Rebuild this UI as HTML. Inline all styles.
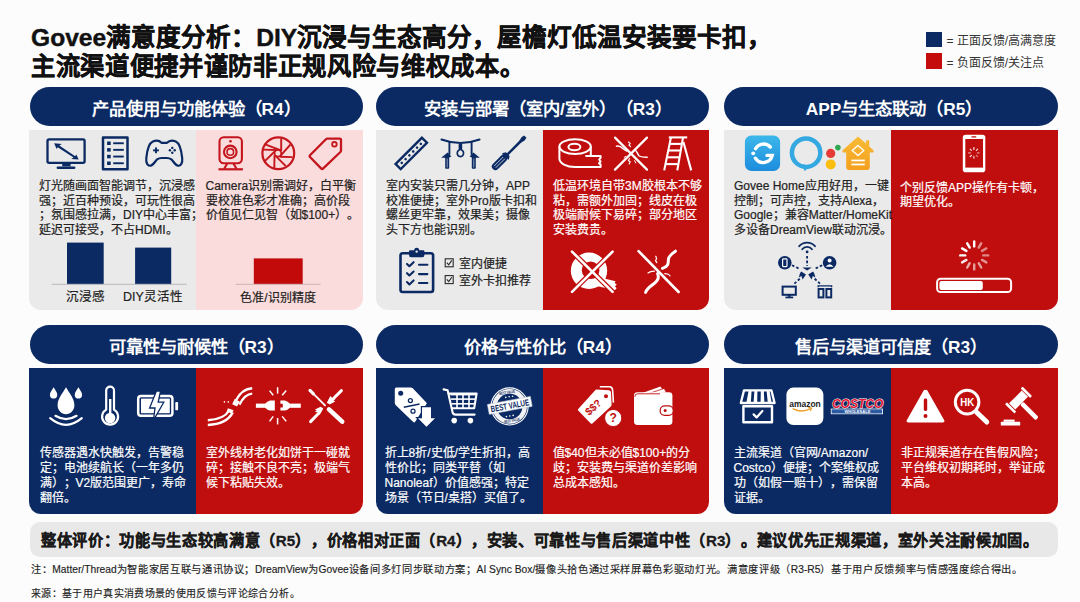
<!DOCTYPE html>
<html lang="zh-CN"><head><meta charset="utf-8">
<style>
*{margin:0;padding:0;box-sizing:border-box}
html,body{width:1080px;height:602px;overflow:hidden;background:#fcfcfc}
body{position:relative;font-family:"Liberation Sans",sans-serif;color:#222;text-spacing-trim:space-all}
.a{position:absolute}
.title{left:31px;top:23px;font-size:24.6px;font-weight:bold;-webkit-text-stroke:0.4px #111;line-height:29.5px;color:#111;white-space:nowrap;letter-spacing:0}
.lg{font-size:12px;color:#333;white-space:nowrap;line-height:14px}
.sq{width:15.5px;height:15.5px}
.pill{height:38.5px;border-radius:20px;background:#0b2a63;color:#fff;font-weight:bold;font-size:17.3px;text-align:center;line-height:45px;white-space:nowrap}
.pn{overflow:hidden}
.h{position:absolute;top:0;bottom:0}
.t{position:absolute;font-size:12px;line-height:14.7px;white-space:nowrap;-webkit-text-stroke:0.2px currentColor}
.w{color:#fff}
.d{color:#222}
svg{position:absolute;overflow:visible}
</style></head><body>
<div class="a title">Govee满意度分析：DIY沉浸与生态高分，屋檐灯低温安装要卡扣，</div>
<div class="a title" style="top:52.3px;transform:scaleX(0.987);transform-origin:0 0">主流渠道便捷并谨防非正规风险与维权成本。</div>

<div class="a sq" style="left:926px;top:31.6px;background:#0b2a63"></div>
<div class="a lg" style="left:946.5px;top:34px">= 正面反馈/高满意度</div>
<div class="a sq" style="left:926px;top:53.3px;background:#c40c0c"></div>
<div class="a lg" style="left:946.5px;top:56px">= 负面反馈/关注点</div>

<!-- pills row 1 -->
<div class="a pill" style="left:29.5px;top:87.3px;width:333.2px">产品使用与功能体验（R4）</div>
<div class="a pill" style="left:376.2px;top:87.3px;width:333.3px;padding-left:10px">安装与部署（室内/室外）（R3）</div>
<div class="a pill" style="left:724.3px;top:87.3px;width:333.5px;padding-left:6px">APP与生态联动（R5）</div>
<!-- pills row 2 -->
<div class="a pill" style="left:29.5px;top:325.2px;width:333.2px;height:39px;line-height:44px">可靠性与耐候性（R3）</div>
<div class="a pill" style="left:376.2px;top:325.2px;width:333.3px;height:39px;line-height:44px">价格与性价比（R4）</div>
<div class="a pill" style="left:724.3px;top:325.2px;width:333.5px;height:39px;line-height:44px">售后与渠道可信度（R3）</div>

<!-- panels row 1 -->
<div class="a pn" style="left:29.2px;top:129.8px;width:333.5px;height:179.8px;border-radius:0 0 12px 12px">
  <div class="h" style="left:0;width:166.8px;background:#eaeaea"></div>
  <div class="h" style="left:166.8px;right:0;background:#fadcdc"></div>
</div>
<div class="a pn" style="left:376.2px;top:129.8px;width:333.3px;height:179.8px;border-radius:0 0 12px 12px">
  <div class="h" style="left:0;width:166.6px;background:#eaeaea"></div>
  <div class="h" style="left:166.6px;right:0;background:#c00e0e"></div>
</div>
<div class="a pn" style="left:724.3px;top:129.8px;width:333.5px;height:179.8px;border-radius:0 0 12px 12px">
  <div class="h" style="left:0;width:166.7px;background:#eaeaea"></div>
  <div class="h" style="left:166.7px;right:0;background:#c00e0e"></div>
</div>
<!-- panels row 2 -->
<div class="a pn" style="left:29.2px;top:368px;width:333.5px;height:146.3px;border-radius:0 0 12px 12px">
  <div class="h" style="left:0;width:166.8px;background:#0b2a63"></div>
  <div class="h" style="left:166.8px;right:0;background:#c00e0e"></div>
</div>
<div class="a pn" style="left:376.2px;top:368px;width:333.3px;height:146.3px;border-radius:0 0 12px 12px">
  <div class="h" style="left:0;width:166.6px;background:#0b2a63"></div>
  <div class="h" style="left:166.6px;right:0;background:#c00e0e"></div>
</div>
<div class="a pn" style="left:724.3px;top:368px;width:333.5px;height:146.3px;border-radius:0 0 12px 12px">
  <div class="h" style="left:0;width:166.7px;background:#0b2a63"></div>
  <div class="h" style="left:166.7px;right:0;background:#c00e0e"></div>
</div>

<!-- texts row 1 -->
<div class="t d" style="left:39px;top:179px">灯光随画面智能调节，沉浸感<br>强；近百种预设，可玩性很高<br>；氛围感拉满，DIY中心丰富；<br>延迟可接受，不占HDMI。</div>
<div class="t d" style="left:205.5px;top:179px">Camera识别需调好，白平衡<br>要校准色彩才准确；高价段<br>价值见仁见智（如$100+）。</div>
<div class="t d" style="left:386px;top:179px">室内安装只需几分钟，APP<br>校准便捷；室外Pro版卡扣和<br>螺丝更牢靠，效果美；摄像<br>头下方也能识别。</div>
<div class="t w" style="left:553px;top:179px">低温环境自带3M胶根本不够<br>粘，需额外加固；线皮在极<br>极端耐候下易碎；部分地区<br>安装费贵。</div>
<div class="t d" style="left:734px;top:179px">Govee Home应用好用，一键<br>控制；可声控，支持Alexa，<br>Google；兼容Matter/HomeKit<br>多设备DreamView联动沉浸。</div>
<div class="t w" style="left:900px;top:180.5px">个别反馈APP操作有卡顿，<br>期望优化。</div>

<!-- texts row 2 -->
<div class="t w" style="left:39.5px;top:445.5px;line-height:15px">传感器遇水快触发，告警稳<br>定；电池续航长（一年多仍<br>满）；V2版范围更广，寿命<br>翻倍。</div>
<div class="t w" style="left:205.5px;top:445.5px;line-height:15px">室外线材老化如饼干一碰就<br>碎；接触不良不亮；极端气<br>候下粘贴失效。</div>
<div class="t w" style="left:384.5px;top:445.5px;line-height:15px">折上8折/史低/学生折扣，高<br>性价比；同类平替（如<br>Nanoleaf）价值感强；特定<br>场景（节日/桌搭）买值了。</div>
<div class="t w" style="left:552.5px;top:445.5px;line-height:15px">值$40但未必值$100+的分<br>歧；安装费与渠道价差影响<br>总成本感知。</div>
<div class="t w" style="left:733.5px;top:445.5px;line-height:15px">主流渠道（官网/Amazon/<br>Costco）便捷；个案维权成<br>功（如假一赔十），需保留<br>证据。</div>
<div class="t w" style="left:900.5px;top:445.5px;line-height:15px">非正规渠道存在售假风险；<br>平台维权初期耗时，举证成<br>本高。</div>

<div class="t d" style="left:459px;top:256.2px;font-size:12px;line-height:16.6px">室内便捷<br>室外卡扣推荐</div>
<div class="t d" style="left:60px;top:289px;font-size:12.5px;line-height:16px;width:50px;text-align:center">沉浸感</div>
<div class="t d" style="left:118px;top:289px;font-size:12.5px;line-height:16px;width:70px;text-align:center">DIY灵活性</div>
<div class="t d" style="left:228px;top:289.5px;font-size:12px;line-height:16px;width:100px;text-align:center">色准/识别精度</div>
<!-- summary -->
<div class="a" style="left:30px;top:522px;width:1027.5px;height:35px;border-radius:10px;background:#e8e8e8"></div>
<div class="a" style="left:40.5px;top:522.6px;height:35px;line-height:35px;font-size:15.5px;font-weight:bold;color:#1a1a1a;white-space:nowrap;-webkit-text-stroke:0.3px #1a1a1a;transform:scaleX(0.9785);transform-origin:0 0">整体评价：功能与生态较高满意（R5），价格相对正面（R4），安装、可靠性与售后渠道中性（R3）。建议优先正规渠道，室外关注耐候加固。</div>
<div class="a" style="left:31px;top:562px;font-size:10.6px;line-height:14px;color:#222;white-space:nowrap;-webkit-text-stroke:0.15px #222;transform:scaleX(0.968);transform-origin:0 0">注：Matter/Thread为智能家居互联与通讯协议；DreamView为Govee设备间多灯同步联动方案；AI Sync Box/摄像头拾色通过采样屏幕色彩驱动灯光。满意度评级（R3-R5）基于用户反馈频率与情感强度综合得出。</div>
<div class="a" style="left:31px;top:585.5px;font-size:10.6px;line-height:14px;color:#222;white-space:nowrap;-webkit-text-stroke:0.15px #222;transform:scaleX(0.94);transform-origin:0 0">来源：基于用户真实消费场景的使用反馈与评论综合分析。</div>

<svg class="ic" width="1080" height="602" viewBox="0 0 1080 602" style="left:0;top:0">
<!-- ===== Panel 1 left (navy outline) ===== -->
<g fill="none" stroke="#0b2a63" stroke-width="2.3" stroke-linejoin="round">
  <!-- monitor -->
  <rect x="47.5" y="139.4" width="37.1" height="23.5" rx="1.6"/>
  <!-- list doc -->
  <rect x="103" y="137.4" width="24.5" height="31.9" stroke-width="2.5"/>
  <!-- gamepad -->
  <path d="M152.8,141.6 C156,140.2 159.4,140.6 161.5,142.8 L167,142.8 C169.1,140.6 172.6,140.2 175.8,141.6 C179.2,143.2 181.4,150 182.2,158.2 C182.8,163.6 180.6,166.4 177.6,165.6 C175.2,165 173.2,161 171.4,159.4 C170,158.3 168.6,158 166.8,158 L161.7,158 C159.9,158 158.5,158.3 157.1,159.4 C155.3,161 153.3,165 150.9,165.6 C147.9,166.4 145.7,163.6 146.3,158.2 C147.1,150 149.3,143.2 152.8,141.6 Z" stroke-width="2.2"/>
</g>
<g fill="#0b2a63">
  <path d="M62.2,163.6 L70.6,163.6 L70.6,166.4 L62.2,166.4 Z"/>
  <rect x="56.6" y="166.4" width="18.8" height="2.5" rx="1.2"/>
  <!-- arrow -->
  <path d="M54.2,143.2 L61.8,144.1 L59.3,145.6 L75.2,156.2 L76.3,154.4 L78.7,159.4 L71.2,159.1 L73.6,157.6 L57.7,147.2 L56.6,149 Z"/>
  <!-- list bullets -->
  <rect x="107.1" y="141.5" width="3.6" height="3.5"/><rect x="107.1" y="148.1" width="3.6" height="3.5"/>
  <rect x="107.1" y="154.8" width="3.6" height="3.5"/><rect x="107.1" y="161.5" width="3.6" height="3.5"/>
  <rect x="113.2" y="142.3" width="10.6" height="1.9"/><rect x="113.2" y="148.9" width="10.6" height="1.9"/>
  <rect x="113.2" y="155.6" width="10.6" height="1.9"/><rect x="113.2" y="162.3" width="10.6" height="1.9"/>
  <!-- dpad -->
  <rect x="153.1" y="149.4" width="5.8" height="1.9"/><rect x="155.05" y="147.4" width="1.9" height="5.8"/>
  <circle cx="172.3" cy="147.9" r="1.2"/><circle cx="172.3" cy="152.7" r="1.2"/>
  <circle cx="169.9" cy="150.3" r="1.2"/><circle cx="174.7" cy="150.3" r="1.2"/>
</g>
<!-- ===== Panel 1 right (red outline) ===== -->
<g fill="none" stroke="#c4161c" stroke-width="2.1" stroke-linejoin="round">
  <!-- webcam -->
  <rect x="219.5" y="137.2" width="22.4" height="26" rx="4.2"/>
  <circle cx="230.3" cy="151.9" r="6.3"/>
  <circle cx="230.3" cy="151.9" r="3.3" stroke-width="1.6"/>
  <path d="M227.2,163.4 L224.2,168.8 M233.5,163.4 L236.5,168.8"/>
  <!-- aperture -->
  <circle cx="278.3" cy="153.3" r="15.9" stroke-width="2.2"/>
  <circle cx="277.9" cy="153.2" r="3.4" stroke-width="1.8"/>
  <!-- tag -->
  <path d="M327,138.6 L339.8,138.6 C340.6,138.6 341,139 341,139.8 L341,150.6 C341,151.2 340.8,151.6 340.4,152 L323,168.6 C322.5,169.1 321.8,169.1 321.3,168.6 L310,157 C309.5,156.5 309.5,155.8 310,155.3 L326.2,139 C326.5,138.7 326.7,138.6 327,138.6 Z" stroke-width="2.3"/>
  <circle cx="334.4" cy="144.3" r="2.3" stroke-width="1.8"/>
</g>
<g fill="#c4161c">
  <circle cx="230.5" cy="141.3" r="1.3"/>
  <rect x="218.5" y="168.2" width="24.4" height="2.2"/>
</g>
<g stroke="#c4161c" stroke-width="1.9" stroke-linecap="butt">
  <line x1="264.5" y1="144.2" x2="281" y2="150.4"/>
  <line x1="281.2" y1="138.2" x2="281.2" y2="150.9"/>
  <line x1="290.5" y1="144.5" x2="280.8" y2="155.3"/>
  <line x1="292.6" y1="157.1" x2="279.8" y2="156.8"/>
  <line x1="285.8" y1="166.2" x2="275.6" y2="155.8"/>
  <line x1="274.3" y1="168.6" x2="274.5" y2="155.2"/>
  <line x1="264.3" y1="161.6" x2="274.4" y2="151.8"/>
  <line x1="263.2" y1="149.6" x2="276" y2="150"/>
</g>
<!-- ===== Panel 2 left (navy) ===== -->
<g transform="translate(411.3,153.4) rotate(-45)">
  <rect x="-18.6" y="-3.6" width="37.2" height="7.2" fill="none" stroke="#0b2a63" stroke-width="2.4"/>
  <g fill="#0b2a63">
    <circle cx="-13.5" cy="0" r="1.3"/><circle cx="-8.1" cy="0" r="1.3"/><circle cx="-2.7" cy="0" r="1.3"/>
    <circle cx="2.7" cy="0" r="1.3"/><circle cx="8.1" cy="0" r="1.3"/><circle cx="13.5" cy="0" r="1.3"/>
  </g>
</g>
<g fill="none" stroke="#0b2a63" stroke-width="1.9" stroke-linecap="round">
  <path d="M441.4,139.5 Q460.5,146.5 479.6,139.5"/>
  <line x1="449.4" y1="142.4" x2="449.4" y2="154"/>
  <line x1="471.6" y1="142.4" x2="471.6" y2="154"/>
  <path d="M460.4,149.2 C457,150.4 456.6,153.6 458,155.6 C459,157 461.8,157 462.8,155.6 C464.2,153.6 463.8,150.4 460.4,149.2 Z" stroke-width="1.7"/>
</g>
<g fill="#0b2a63">
  <rect x="458.6" y="143.8" width="3.6" height="5.4" rx="1"/>
  <path d="M447.6,152.4 L441.2,157.8 L445.2,157.8 L445.2,168 Q445.2,168.8 446,168.8 L448.4,168.8 Q449.2,168.8 449.2,168 L449.2,157.6 L451.4,156.4 Z"/>
  <path d="M473.4,152.4 L479.8,157.8 L475.8,157.8 L475.8,168 Q475.8,168.8 475,168.8 L472.6,168.8 Q471.8,168.8 471.8,168 L471.8,157.6 L469.6,156.4 Z"/>
</g>
<g stroke="#c9d0dc" stroke-width="0.7"><line x1="447.2" y1="158.5" x2="447.2" y2="167.5"/><line x1="473.8" y1="158.5" x2="473.8" y2="167.5"/></g>
<!-- screwdriver -->
<g transform="translate(508.6,153.3) rotate(-45)">
  <rect x="-22.2" y="-3.6" width="19" height="7.2" rx="3.6" fill="#0b2a63"/>
  <path d="M-4.6,-4.8 L-1.2,-2.6 L-1.2,2.6 L-4.6,4.8 Z" fill="#0b2a63"/>
  <rect x="-1.6" y="-1.25" width="19" height="2.5" fill="#0b2a63"/>
  <path d="M16.6,-1.25 L20.4,-2.2 L23.6,-1.7 L23.6,1.7 L20.4,2.2 L16.6,1.25 Z" fill="#0b2a63"/>
  <g stroke="#dfe3ea" stroke-width="0.8"><line x1="-19.4" y1="-1.2" x2="-6.5" y2="-1.2"/><line x1="-19.4" y1="1.2" x2="-6.5" y2="1.2"/></g>
</g>
<!-- clipboard -->
<rect x="400.5" y="253.3" width="32.6" height="38.7" rx="2.2" fill="none" stroke="#0b2a63" stroke-width="2.6"/>
<path d="M409,255 L409,251.2 Q409,250.2 410,250.2 L414.1,250.2 Q414.4,247.8 416.7,247.8 Q419,247.8 419.3,250.2 L423.4,250.2 Q424.4,250.2 424.4,251.2 L424.4,255 Q424.4,257.2 422.4,257.2 L411,257.2 Q409,257.2 409,255 Z" fill="#0b2a63"/>
<circle cx="416.7" cy="251.6" r="1.2" fill="#eaeaea"/>
<g fill="none" stroke="#0b2a63" stroke-width="2.1" stroke-linecap="round" stroke-linejoin="round">
  <path d="M407,263.9 L409.4,266.2 L413.6,262.2"/>
  <path d="M407,273.2 L409.4,275.5 L413.6,271.5"/>
  <path d="M407,282.1 L409.4,284.4 L413.6,280.4"/>
  <line x1="419" y1="264.8" x2="427.4" y2="264.8"/>
  <line x1="419" y1="274.1" x2="427.4" y2="274.1"/>
  <line x1="419" y1="283" x2="427.4" y2="283"/>
</g>
<!-- checkboxes -->
<g fill="none" stroke="#2a2a2a" stroke-width="1.1">
  <rect x="445.2" y="258.8" width="8" height="8"/>
  <rect x="445.2" y="275.6" width="8" height="8"/>
  <path d="M446.8,262.6 L448.7,264.8 L451.8,260.4"/>
  <path d="M446.8,279.4 L448.7,281.6 L451.8,277.2"/>
</g>
</svg>
<svg class="ic" width="1080" height="602" viewBox="0 0 1080 602" style="left:0;top:0">
<!-- ===== bars panel 1 ===== -->
<rect x="67" y="242.6" width="36.7" height="41.6" fill="#0b2a63"/>
<rect x="135.1" y="247.6" width="36.1" height="36.6" fill="#0b2a63"/>
<rect x="51.7" y="283.8" width="135.2" height="1" fill="#b9b9bb"/>
<rect x="253.8" y="258.4" width="48.9" height="25.8" fill="#c20a0a"/>
<rect x="235.7" y="283.8" width="84.9" height="1" fill="#cdb3b3"/>
<!-- ===== Panel 2 right (white on red) ===== -->
<g fill="none" stroke="#fff" stroke-width="2" stroke-linejoin="round">
  <!-- tape roll -->
  <ellipse cx="575.1" cy="146.6" rx="15.7" ry="7.4"/>
  <ellipse cx="574.4" cy="147" rx="6" ry="3.2"/>
  <path d="M559.4,146.6 L559.4,158.6 C559.4,163.4 566.4,167 575.1,167 L600.6,167 L600.6,164.6 L599,163.3 L600.6,161.5 L599.2,159.6 L600.6,157.8 L600.6,156 L585.4,156"/>
  <path d="M590.8,146.6 L590.8,156"/>
</g>
<g stroke="#fff" stroke-width="2.2" stroke-linecap="round">
  <line x1="615" y1="137.6" x2="647" y2="169.6"/>
  <line x1="647" y1="137.6" x2="615" y2="169.6"/>
</g>
<g fill="none" stroke="#fff" stroke-width="1.5" stroke-linecap="round">
  <path d="M616.5,146.2 C619,145.6 621.5,147.2 623,148.6 L626.5,151"/>
  <path d="M634.6,149.6 C637,151 637.4,153.4 638.6,155.4 C640,157.2 643.5,157.2 647.2,157.2"/>
  <path d="M628.5,142 L630.2,143.6 L629,145.2 L630.6,146.6" stroke-width="1.1"/>
  <path d="M629.6,158.5 L628.4,160.5 L630.2,161.8 L629.2,164" stroke-width="1.1"/>
  <path d="M626,156.4 L624.2,157.4" stroke-width="1"/>
  <path d="M634.6,160.6 L635.8,163" stroke-width="1"/>
</g>
<!-- ladder -->
<g stroke="#fff" stroke-width="2.1" stroke-linecap="butt" fill="none">
  <line x1="668.8" y1="137.4" x2="687.2" y2="137.4"/>
  <line x1="670.9" y1="137.6" x2="664.2" y2="170.4"/>
  <line x1="683" y1="137.6" x2="677.3" y2="170.4"/>
  <line x1="683.4" y1="142" x2="691.2" y2="170.4"/>
  <line x1="669.6" y1="143.9" x2="681.8" y2="143.9"/>
  <line x1="668.2" y1="150.5" x2="680.5" y2="150.5"/>
  <line x1="666.8" y1="157.3" x2="679.1" y2="157.3"/>
  <line x1="665.4" y1="164.1" x2="677.7" y2="164.1"/>
</g>
<!-- tape crossed -->
<circle cx="589" cy="270.8" r="18.2" fill="#fff"/>
<circle cx="590.6" cy="270.2" r="8.8" fill="#c00e0e"/>
<path d="M598,277 L615.6,281.2 L614.6,283 L616.8,284.6 L615,286.2 L616.6,288.2 L614.8,290.2 L597,286 Z" fill="#fff"/>
<g stroke="#c00e0e" stroke-width="5" stroke-linecap="round">
  <line x1="572" y1="251.6" x2="612.6" y2="291.8"/>
  <line x1="612.6" y1="251.6" x2="572" y2="291.8"/>
</g>
<g stroke="#fff" stroke-width="2.6" stroke-linecap="round">
  <line x1="572" y1="251.6" x2="612.6" y2="291.8"/>
  <line x1="612.6" y1="251.6" x2="572" y2="291.8"/>
</g>
<!-- broken cable crossed -->
<line x1="638.6" y1="251.2" x2="678.6" y2="292" stroke="#fff" stroke-width="2.6" stroke-linecap="round"/>
<g fill="none" stroke="#fff" stroke-width="3" stroke-linecap="round">
  <path d="M675.4,251.2 C672,253.6 668.6,256 668.4,259.4 C668.2,263 668.8,266.6 662.4,268.4"/>
  <path d="M657.6,273.6 C659,276.6 658.6,279.6 655.2,282.6 C651.4,286 647,287.8 645.6,292.4"/>
</g>
<g fill="none" stroke="#fff" stroke-width="1.2" stroke-linecap="round">
  <path d="M655.8,256.2 L656.6,258.6 L655.6,260.6 L656.8,262.6"/>
  <path d="M654.4,271.2 L650.6,271.6 L648,273"/>
  <path d="M664.8,273.6 L668.4,274.2 L670,275.8"/>
</g>
<!-- ===== Panel 3 left ===== -->
<defs>
  <linearGradient id="gv" x1="0" y1="0" x2="0" y2="1"><stop offset="0" stop-color="#3cb7ea"/><stop offset="1" stop-color="#1d8ddd"/></linearGradient>
  <linearGradient id="hm" x1="0" y1="0" x2="0" y2="1"><stop offset="0" stop-color="#f8bb38"/><stop offset="1" stop-color="#f4a01c"/></linearGradient>
</defs>
<rect x="744.9" y="135.6" width="35.2" height="35.3" rx="6.5" fill="url(#gv)"/>
<g fill="none" stroke="#fff" stroke-width="3.4" stroke-linecap="round">
  <path d="M770.3,147 A9.2,9.2 0 0 0 755.6,148.6"/>
  <path d="M755.4,158.2 A9.2,9.2 0 0 0 772.2,155.4 L767,155.4"/>
</g>
<circle cx="753.2" cy="153.3" r="1.9" fill="#fff"/>
<circle cx="806.1" cy="152.7" r="14.2" fill="none" stroke="#34a9e1" stroke-width="4.5"/>
<path d="M802.4,164.2 L804.6,171.2 L810.2,166 Z" fill="#34a9e1"/>
<circle cx="830.7" cy="153.4" r="4.6" fill="#e53a35"/>
<circle cx="837.9" cy="147.6" r="2.8" fill="#2fa84f"/>
<circle cx="830.7" cy="164.4" r="5" fill="#fbbd0e"/>
<path d="M858,136.6 L866,143.6 L866,141 Q866,140.3 866.7,140.3 L868.6,140.3 Q869.3,140.3 869.3,141 L869.3,146.6 L873.4,150.3 Q874.2,151.2 873.2,152.6 L869.8,152.6 L869.8,167.6 Q869.8,170 867.4,170 L848.6,170 Q846.2,170 846.2,167.6 L846.2,152.6 L843,152.6 Q841.8,151.2 842.7,150.3 Z" fill="url(#hm)"/>
<path d="M858,145.4 L863.8,150.6 L858,155.6 L852.2,150.6 Z" fill="none" stroke="#fff" stroke-width="1.3"/>
<rect x="851.4" y="159.6" width="13.4" height="1.7" fill="#fff"/>
<rect x="851.4" y="163.6" width="13.4" height="1.7" fill="#fff"/>
<!-- network -->
<g fill="none" stroke="#0b2a63" stroke-width="1.8" stroke-linecap="round">
  <path d="M802.2,249.2 A6.2,6.2 0 0 1 812,249.2"/>
  <path d="M799.2,246.2 A10.4,10.4 0 0 1 815,246.2"/>
</g>
<circle cx="807.1" cy="251.9" r="1.4" fill="#0b2a63"/>
<g stroke="#0b2a63" stroke-width="1.8" stroke-dasharray="2.6,2" fill="none">
  <line x1="807.1" y1="256" x2="807.1" y2="266"/>
  <line x1="792" y1="265.3" x2="800" y2="269"/>
  <line x1="822.2" y1="265.3" x2="814.2" y2="269"/>
  <line x1="794.4" y1="283.6" x2="800.4" y2="278.2"/>
  <line x1="820" y1="283.6" x2="814" y2="278.2"/>
</g>
<path d="M802.4,267.4 L811.8,267.4 L807.1,270.6 Z" fill="#0b2a63"/>
<path d="M801.2,271.6 L806,274.4 L802.6,279.6 L801.4,276 L798.8,277.6 L800,273.2 Z" fill="#0b2a63"/>
<path d="M813,271.6 L808.2,274.4 L811.6,279.6 L812.8,276 L815.4,277.6 L814.2,273.2 Z" fill="#0b2a63"/>
<circle cx="784.8" cy="262.7" r="6.8" fill="#0b2a63"/>
<rect x="782.6" y="258.8" width="4.4" height="7.8" rx="0.8" fill="none" stroke="#fff" stroke-width="1.2"/>
<circle cx="829.6" cy="262.7" r="6.8" fill="#0b2a63"/>
<circle cx="829.6" cy="260.6" r="2" fill="#fff"/>
<path d="M825.6,266.8 Q829.6,261.8 833.6,266.8 Z" fill="#fff"/>
<rect x="782.6" y="286.6" width="13.2" height="8.2" fill="none" stroke="#0b2a63" stroke-width="2"/>
<rect x="787.8" y="294.8" width="3" height="2" fill="#0b2a63"/>
<rect x="785.4" y="296.6" width="7.8" height="1.7" fill="#0b2a63"/>
<rect x="818.6" y="289" width="4.8" height="8.4" fill="none" stroke="#0b2a63" stroke-width="2"/>
<rect x="826.4" y="289" width="4.8" height="8.4" fill="none" stroke="#0b2a63" stroke-width="2"/>
<path d="M818.2,287.2 L818.2,285.9 L831.6,285.9 L831.6,287.2" fill="none" stroke="#0b2a63" stroke-width="1.4"/>
<!-- ===== Panel 3 right ===== -->
<rect x="962.8" y="134.7" width="22.5" height="37.5" rx="2.8" fill="#fff"/>
<rect x="965.3" y="139" width="17.7" height="28.6" fill="#c00e0e"/>
<rect x="971.4" y="136.2" width="5" height="1.4" rx="0.7" fill="#c00e0e"/>
<g stroke="#fff" stroke-width="1.1" stroke-linecap="round" id="spS">
  <line x1="973.9" y1="147.6" x2="973.9" y2="149.4" opacity="0.95"/>
  <line x1="977.6" y1="149.2" x2="976.4" y2="150.4" opacity="0.9"/>
  <line x1="979.2" y1="152.9" x2="977.4" y2="152.9" opacity="0.55"/>
  <line x1="977.6" y1="156.6" x2="976.4" y2="155.4" opacity="0.5"/>
  <line x1="973.9" y1="158.2" x2="973.9" y2="156.4" opacity="0.85"/>
  <line x1="970.2" y1="156.6" x2="971.4" y2="155.4" opacity="0.95"/>
  <line x1="968.6" y1="152.9" x2="970.4" y2="152.9" opacity="0.6"/>
  <line x1="970.2" y1="149.2" x2="971.4" y2="150.4" opacity="0.9"/>
</g>
<g stroke="#fff" stroke-width="2.4" stroke-linecap="round" transform="translate(974.2,255.4)">
  <line x1="0" y1="-9" x2="0" y2="-14" opacity="1" transform="rotate(0)"/>
  <line x1="0" y1="-9" x2="0" y2="-14" opacity="0.55" transform="rotate(30)"/>
  <line x1="0" y1="-9" x2="0" y2="-14" opacity="0.5" transform="rotate(60)"/>
  <line x1="0" y1="-9" x2="0" y2="-14" opacity="0.5" transform="rotate(90)"/>
  <line x1="0" y1="-9" x2="0" y2="-14" opacity="0.55" transform="rotate(120)"/>
  <line x1="0" y1="-9" x2="0" y2="-14" opacity="0.6" transform="rotate(150)"/>
  <line x1="0" y1="-9" x2="0" y2="-14" opacity="0.6" transform="rotate(180)"/>
  <line x1="0" y1="-9" x2="0" y2="-14" opacity="0.65" transform="rotate(210)"/>
  <line x1="0" y1="-9" x2="0" y2="-14" opacity="0.9" transform="rotate(240)"/>
  <line x1="0" y1="-9" x2="0" y2="-14" opacity="1" transform="rotate(270)"/>
  <line x1="0" y1="-9" x2="0" y2="-14" opacity="1" transform="rotate(300)"/>
  <line x1="0" y1="-9" x2="0" y2="-14" opacity="1" transform="rotate(330)"/>
</g>
<rect x="937.1" y="278.7" width="74" height="13.4" rx="3.6" fill="none" stroke="#fff" stroke-width="2"/>
<rect x="939.4" y="281.1" width="43.4" height="8.8" rx="2" fill="#fff"/>
</svg>
<svg class="ic" width="1080" height="602" viewBox="0 0 1080 602" style="left:0;top:0">
<!-- ===== Row2 col1 left (white on navy) ===== -->
<g fill="#fff">
  <path d="M66,387.3 C63,393 57.6,398 57.6,405.6 C57.6,410.4 61.4,414.2 66,414.2 C70.6,414.2 74.4,410.4 74.4,405.6 C74.4,398 69,393 66,387.3 Z"/>
  <path d="M53.6,387.3 C52.4,389.8 49.9,392 49.9,394.9 C49.9,397 51.6,398.6 53.6,398.6 C55.6,398.6 57.3,397 57.3,394.9 C57.3,392 54.8,389.8 53.6,387.3 Z"/>
  <path d="M78.4,387.3 C77.2,389.8 74.7,392 74.7,394.9 C74.7,397 76.4,398.6 78.4,398.6 C80.4,398.6 82.1,397 82.1,394.9 C82.1,392 79.6,389.8 78.4,387.3 Z"/>
</g>
<g fill="none" stroke="#fff" stroke-width="2.2" stroke-linecap="round">
  <path d="M55.4,415.8 Q66,422.4 76.6,415.8"/>
  <path d="M50.2,418.2 Q66,431.4 81.8,418.2"/>
</g>
<!-- thermometer -->
<path d="M106.2,409.6 L106.2,390.5 A3.9,3.9 0 0 1 114,390.5 L114,409.6 A8,8 0 1 1 106.2,409.6 Z" fill="none" stroke="#fff" stroke-width="2.2"/>
<rect x="109" y="399" width="2.4" height="14" fill="#fff"/>
<circle cx="110.1" cy="418" r="5.2" fill="#fff"/>
<!-- battery -->
<rect x="138.2" y="396" width="34.2" height="19.7" rx="2.8" fill="none" stroke="#fff" stroke-width="2.5"/>
<rect x="141" y="398.6" width="28.8" height="14.6" fill="#fff"/>
<rect x="175.3" y="402" width="2.8" height="8.3" rx="0.8" fill="#fff"/>
<path d="M156.4,391 L149.6,408 L155,408 L153.4,420.4 L163.8,402.2 L158.2,402.2 L160.6,391 Z" fill="#fff" stroke="#0b2a63" stroke-width="1.3" stroke-linejoin="miter"/>
<!-- ===== Row2 col1 right (white on red) ===== -->
<g fill="none" stroke="#fff" stroke-width="2.4" stroke-linecap="butt">
  <path d="M252.2,388.2 C244,388.6 239.4,393.6 236,400.2"/>
  <path d="M252.2,393.6 C246,394 242.6,398.4 239.4,404.6"/>
  <path d="M229.6,410 C226,416 220,419.8 207.8,420.2"/>
  <path d="M232.8,412.4 C229.4,419 222.6,424.4 207.8,425"/>
</g>
<g fill="#fff">
  <path d="M234.6,399 L239.8,401.4 L237,406.4 L232.2,404.2 Z"/>
  <path d="M228,408.2 L233.6,410.2 L231.6,413.6 L226.6,411.6 Z"/>
  <circle cx="224.4" cy="401.9" r="0.8"/><circle cx="228.3" cy="401.9" r="0.8"/>
</g>
<!-- plug -->
<g fill="#fff">
  <rect x="255.9" y="403.6" width="9" height="4.2"/>
  <path d="M264.4,404.2 Q267.5,401.2 270,400.6 L274.8,400.6 L274.8,410.6 L270,410.6 Q267.5,410 264.4,407.2 Z"/>
  <path d="M280.4,400.6 L285,400.6 Q287.5,401.2 290.6,404.2 L290.6,407.2 Q287.5,410 285,410.6 L280.4,410.6 L280.4,407.6 L282.8,407.6 L282.8,403.8 L280.4,403.8 Z"/>
  <rect x="290.2" y="403.6" width="10.6" height="4.2"/>
</g>
<g stroke="#fff" stroke-width="1.5" stroke-linecap="butt">
  <line x1="277.6" y1="387.2" x2="277.6" y2="393.6"/>
  <line x1="269.6" y1="390.6" x2="273.2" y2="395.2"/>
  <line x1="286.2" y1="390.6" x2="282.2" y2="395.2"/>
  <line x1="277.6" y1="418" x2="277.6" y2="424.4"/>
  <line x1="269.6" y1="421.4" x2="273.2" y2="416.4"/>
  <line x1="286.2" y1="421.4" x2="282.2" y2="416.4"/>
</g>
<!-- crossed tools -->
<g stroke="#fff" stroke-linecap="round">
  <line x1="310" y1="390.4" x2="325" y2="405.4" stroke-width="2"/>
  <line x1="310" y1="390.4" x2="313.4" y2="393.8" stroke-width="3.2"/>
  <line x1="329" y1="409.4" x2="342.2" y2="421.6" stroke-width="4.6"/>
  <line x1="341.4" y1="390.6" x2="333" y2="399" stroke-width="3"/>
  <line x1="318.2" y1="413.8" x2="310.6" y2="421.6" stroke-width="3"/>
</g>
<g fill="#fff">
  <path d="M326.8,403.4 L330.4,396 L332.6,398.6 L335.4,399.2 Z"/>
  <path d="M323.4,407.6 L319.6,415 L317.6,412.4 L314.8,411.8 Z"/>
  <path d="M329.8,397.6 L335.2,401.6 L329.6,404.4 L327,402.6 Z"/>
  <path d="M320.4,413.6 L315,409.6 L320.6,406.8 L323.2,408.6 Z"/>
</g>
<!-- ===== Row2 col2 left (white on navy) ===== -->
<path d="M396.4,387.4 L410.8,387.4 Q411.8,387.4 412.5,388.1 L426.3,402.5 Q427.2,403.4 426.3,404.3 L415.2,421.8 Q414.2,423 413.2,422.1 L395.6,405 Q394.8,404.2 394.8,403.1 L394.8,389 Q394.8,387.4 396.4,387.4 Z" fill="#fff"/>
<circle cx="400.7" cy="393.3" r="2.5" fill="#0b2a63"/>
<circle cx="410.4" cy="400.6" r="2" fill="none" stroke="#0b2a63" stroke-width="1.3"/>
<circle cx="413" cy="411.2" r="2" fill="none" stroke="#0b2a63" stroke-width="1.3"/>
<line x1="403.8" y1="407.2" x2="419.6" y2="404" stroke="#0b2a63" stroke-width="1.4"/>
<path d="M421.4,406.6 L431.6,406.6 L431.6,417.6 L436.4,417.6 L426.5,427.6 L416.6,417.6 L421.4,417.6 Z" fill="#fff" stroke="#0b2a63" stroke-width="1.2"/>
<!-- cart -->
<g fill="none" stroke="#fff" stroke-width="2.1" stroke-linecap="round" stroke-linejoin="round">
  <path d="M443.6,389.4 L447.6,390.2 L452.4,411.6 Q452.8,414.6 455.6,414.6 L474.6,414.6"/>
  <path d="M449.4,393.6 L476.6,393.6 L474.2,408.2 L452,408.2"/>
</g>
<g fill="#fff">
  <rect x="450.4" y="393.6" width="25.8" height="1.8"/>
  <rect x="451" y="398.3" width="24.6" height="1.6"/>
  <rect x="451.6" y="403" width="23.4" height="1.6"/>
  <rect x="456.2" y="393.6" width="1.6" height="14.6"/>
  <rect x="462.2" y="393.6" width="1.6" height="14.6"/>
  <rect x="468.2" y="393.6" width="1.6" height="14.6"/>
  <circle cx="454.2" cy="420.6" r="2.8"/>
  <circle cx="470.4" cy="420.6" r="2.8"/>
</g>
<!-- best value badge -->
<circle cx="509.6" cy="406.4" r="19.1" fill="#fff"/>
<circle cx="509.6" cy="406.4" r="18" fill="#0b2a63"/>
<circle cx="509.6" cy="406.4" r="15" fill="none" stroke="#f2f2f4" stroke-width="4.6"/>
<circle cx="509.6" cy="406.4" r="12.6" fill="#0b2a63"/>
<g fill="#0b2a63" font-family="Liberation Sans" font-weight="bold" font-size="4" text-anchor="middle">
  <text x="509.6" y="393.6" transform="rotate(-10 509.6 406.4)" textLength="16" lengthAdjust="spacingAndGlyphs">BEST VALUE</text>
  <text x="509.6" y="422" transform="rotate(-10 509.6 406.4)" textLength="16" lengthAdjust="spacingAndGlyphs">BEST VALUE</text>
</g>
<g fill="#fff"><circle cx="505.8" cy="397.4" r="0.8"/><circle cx="509.2" cy="396.8" r="0.8"/><circle cx="512.6" cy="396.2" r="0.8"/>
<circle cx="506.4" cy="416.6" r="0.8"/><circle cx="509.8" cy="416" r="0.8"/><circle cx="513.2" cy="415.4" r="0.8"/></g>
<g transform="translate(0,1.2) rotate(-10.6 509.8 404.2)">
  <rect x="488" y="399.2" width="43.6" height="10" fill="#fff" stroke="#c9d0de" stroke-width="0.6"/>
  <text x="509.8" y="407.6" fill="#0b2a63" font-family="Liberation Sans" font-weight="bold" font-size="9" text-anchor="middle" textLength="39" lengthAdjust="spacingAndGlyphs">BEST VALUE</text>
</g>
<!-- ===== Row2 col2 right (white on red) ===== -->
<path d="M599.8,386.8 L609.6,386.8 Q612.2,387 612.6,390 L613.4,402.6" fill="none" stroke="#fff" stroke-width="1.6"/>
<path d="M596.6,389.6 L608.8,390.2 Q611,390.4 611,392.6 L611.6,404.4 Q611.6,405.6 610.8,406.4 L592.4,423.4 Q591.6,424.2 590.8,423.4 L578.2,410.6 Q577.4,409.8 578.2,409 L595.2,390.2 Q595.8,389.6 596.6,389.6 Z" fill="#fff"/>
<circle cx="606" cy="396.2" r="2" fill="#c00e0e"/>
<text x="593.4" y="410.8" fill="#c00e0e" font-family="Liberation Sans" font-weight="bold" font-size="10.5" text-anchor="middle" transform="rotate(-42 593.4 407.4)">$$?</text>
<circle cx="613.2" cy="418" r="8.6" fill="#fff" stroke="#c00e0e" stroke-width="1"/>
<text x="613.2" y="422.2" fill="#c00e0e" font-family="Liberation Sans" font-weight="bold" font-size="12" text-anchor="middle">?</text>
<!-- wallet -->
<path d="M641,393.6 L660.4,386.6 L663.8,391.6 Z" fill="#fff"/>
<path d="M645.8,394.6 L664.2,388.4 L666.6,392.8 Z" fill="#fff" stroke="#c00e0e" stroke-width="0.8"/>
<rect x="634" y="392.2" width="38.4" height="32.8" rx="3.4" fill="#fff"/>
<path d="M634.8,396.8 Q634.8,393.8 637.8,393.8 L660,393.8" fill="none" stroke="#c00e0e" stroke-width="0.9"/>
<rect x="660.2" y="405.8" width="13" height="9.6" rx="4.4" fill="#fff" stroke="#c00e0e" stroke-width="1.2"/>
<circle cx="665.2" cy="410.6" r="1.5" fill="#c00e0e"/>
<!-- ===== Row2 col3 left (white on navy) ===== -->
<g fill="none" stroke="#fff" stroke-width="2.3" stroke-linejoin="round">
  <path d="M744,390.4 L771.4,390.4 L774.6,403 L740.8,403 Z"/>
  <rect x="743.4" y="406.2" width="28.6" height="16" stroke-width="2.4"/>
</g>
<g fill="#fff">
  <path d="M748.6,391 L751.6,391 L750.8,402.4 L746.4,402.4 Z"/>
  <path d="M754.4,391 L757.4,391 L757.2,402.4 L753.6,402.4 Z"/>
  <path d="M760.8,391 L763.8,391 L764.4,402.4 L760.6,402.4 Z"/>
  <path d="M766.6,391 L769.6,391 L771.6,402.4 L767.8,402.4 Z"/>
</g>
<path d="M753.6,414.4 L756.6,417.4 L762.4,411" fill="none" stroke="#fff" stroke-width="2.2" stroke-linecap="round" stroke-linejoin="round"/>
<rect x="786.4" y="387.6" width="37" height="37.4" rx="7" fill="#fff"/>
<text x="805" y="407.4" fill="#222" font-family="Liberation Sans" font-weight="bold" font-size="9.6" text-anchor="middle" textLength="31.6" lengthAdjust="spacingAndGlyphs">amazon</text>
<path d="M793.2,408.8 Q802,413.2 810.6,408.6" fill="none" stroke="#f0a028" stroke-width="1.5" stroke-linecap="round"/>
<path d="M808.6,407.4 L811.6,408.2 L810.4,410.6" fill="none" stroke="#f0a028" stroke-width="1.1" stroke-linecap="round"/>
<!-- costco -->
<rect x="830.8" y="408.6" width="52.2" height="5.6" fill="#fff"/>
<rect x="831.6" y="409.3" width="50.6" height="4.2" fill="#2c5aa0"/>
<text x="857.4" y="413" fill="#fff" font-family="Liberation Sans" font-weight="bold" font-size="4" text-anchor="middle" textLength="26" lengthAdjust="spacingAndGlyphs" x-offset="0">WHOLESALE</text>
<text x="857.6" y="408.4" fill="#e31837" stroke="#fff" stroke-width="1" paint-order="stroke" font-family="Liberation Sans" font-weight="bold" font-style="italic" font-size="13.4" text-anchor="middle" textLength="51.4" lengthAdjust="spacingAndGlyphs">COSTCO</text>
<!-- ===== Row2 col3 right (white on red) ===== -->
<path d="M925.5,390 Q926.4,389.2 927.2,390.2 L944.4,420.6 Q945,422.4 943,422.4 L908,422.4 Q906,422.4 906.6,420.6 L923.8,390.2 Q924.6,389.2 925.5,390 Z" fill="#fff"/>
<rect x="923.8" y="398.6" width="3.4" height="12.4" rx="1.4" fill="#c00e0e"/>
<circle cx="925.5" cy="416" r="2" fill="#c00e0e"/>
<circle cx="967.1" cy="402.1" r="11.8" fill="#c00e0e" stroke="#fff" stroke-width="3"/>
<line x1="976.6" y1="412.2" x2="986.8" y2="422" stroke="#fff" stroke-width="5" stroke-linecap="round"/>
<text x="967.3" y="406.4" fill="#fff" font-family="Liberation Sans" font-weight="bold" font-size="11" text-anchor="middle" textLength="14" lengthAdjust="spacingAndGlyphs">HK</text>
<g transform="translate(1018.5,400.1) rotate(-45)">
  <rect x="-9" y="-4.4" width="18" height="8.8" fill="#fff"/>
  <rect x="-12.4" y="-6.6" width="2.6" height="13.2" rx="0.6" fill="#fff"/>
  <rect x="9.8" y="-6.6" width="2.6" height="13.2" rx="0.6" fill="#fff"/>
  <rect x="-2.2" y="4.4" width="4.4" height="22" rx="1.6" fill="#fff"/>
</g>
<rect x="1003.6" y="419.6" width="11" height="2.2" fill="#fff"/>
<rect x="1000.8" y="421.8" width="19.4" height="3.8" rx="0.6" fill="#fff"/>
</svg>

</body></html>
